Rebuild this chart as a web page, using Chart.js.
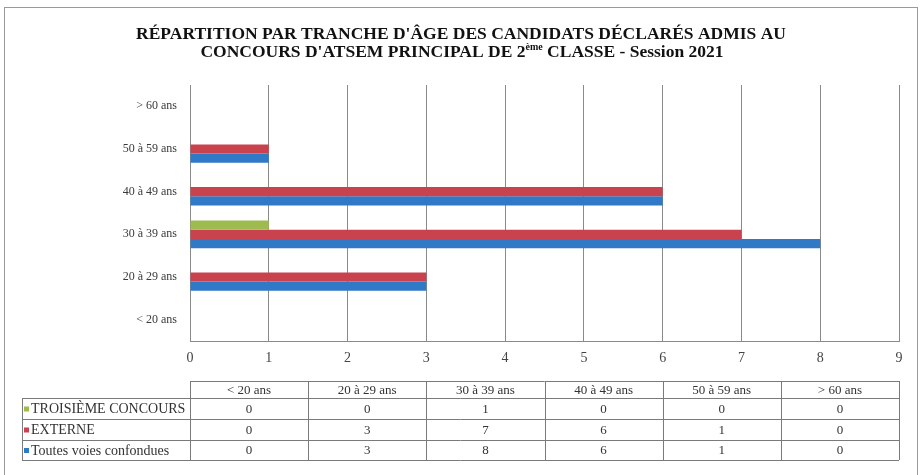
<!DOCTYPE html>
<html>
<head>
<meta charset="utf-8">
<script src="https://cdn.jsdelivr.net/npm/chart.js@4.4.1/dist/chart.umd.min.js"></script>
<style>
  body { margin: 0; background: #fff; }
</style>
</head>
<body>
<canvas id="chart" width="920" height="475"></canvas>
<script>
// data
const categories = ['< 20 ans', '20 à 29 ans', '30 à 39 ans', '40 à 49 ans', '50 à 59 ans', '> 60 ans'];
const troisiemeConcours = [0, 0, 1, 0, 0, 0];
const externe = [0, 3, 7, 6, 1, 0];
const toutesVoies = [0, 3, 8, 6, 1, 0];
const seriesNames = ['TROISIÈME CONCOURS', 'EXTERNE', 'Toutes voies confondues'];
const seriesColors = ['#9DBB4F', '#C9434F', '#2F79C6'];
const xMax = 9;

const serif = '"Liberation Serif", "DejaVu Serif", serif';

// frame + two-line title with the superscript "ème"
const titlePlugin = {
  id: 'titleSup',
  beforeDraw(chart) {
    const ctx = chart.ctx;
    ctx.save();
    ctx.fillStyle = '#fff';
    ctx.fillRect(0, 0, chart.width, chart.height);
    ctx.strokeStyle = '#9a9a9a';
    ctx.lineWidth = 1;
    ctx.strokeRect(4.5, 7.5, 913, 480);

    ctx.fillStyle = '#111';
    ctx.textBaseline = 'alphabetic';
    ctx.textAlign = 'center';
    ctx.font = 'bold 17.5px ' + serif;
    ctx.fillText("RÉPARTITION PAR TRANCHE D'ÂGE DES CANDIDATS DÉCLARÉS ADMIS AU", 461, 39);

    const parts = [
      { t: "CONCOURS D'ATSEM PRINCIPAL DE 2", sup: false },
      { t: 'ème', sup: true },
      { t: ' CLASSE - Session 2021', sup: false }
    ];
    const big = 'bold 17.5px ' + serif, small = 'bold 10px ' + serif;
    let total = 0;
    parts.forEach(p => { ctx.font = p.sup ? small : big; p.w = ctx.measureText(p.t).width; total += p.w; });
    let x = 462 - total / 2;
    ctx.textAlign = 'left';
    parts.forEach(p => {
      ctx.font = p.sup ? small : big;
      ctx.fillText(p.t, x, p.sup ? 50 : 57);
      x += p.w;
    });
    ctx.restore();
  }
};

// data table under the chart, columns lined up with the plot area
const tablePlugin = {
  id: 'dataTable',
  afterDraw(chart) {
    const ctx = chart.ctx;
    const area = chart.chartArea;
    const left = 22, x0 = area.left, x1 = area.right;
    const rows = [381, 398, 419, 440, 460];
    const colW = (x1 - x0) / categories.length;
    const seriesData = [troisiemeConcours, externe, toutesVoies];

    ctx.save();
    ctx.strokeStyle = '#7a7a7a';
    ctx.lineWidth = 1;
    ctx.beginPath();
    ctx.moveTo(x0, rows[0] + 0.5); ctx.lineTo(x1, rows[0] + 0.5);
    for (let r = 1; r < rows.length; r++) {
      ctx.moveTo(left, rows[r] + 0.5); ctx.lineTo(x1, rows[r] + 0.5);
    }
    ctx.moveTo(left + 0.5, rows[1]); ctx.lineTo(left + 0.5, rows[4]);
    for (let c = 0; c <= categories.length; c++) {
      const x = Math.round(x0 + c * colW) + 0.5;
      ctx.moveTo(x, rows[0]); ctx.lineTo(x, rows[4]);
    }
    ctx.stroke();

    ctx.fillStyle = '#333';
    ctx.textBaseline = 'middle';
    ctx.textAlign = 'center';
    ctx.font = '13px ' + serif;
    categories.forEach((c, i) => {
      ctx.fillText(c, x0 + (i + 0.5) * colW, (rows[0] + rows[1]) / 2 + 1);
    });

    seriesData.forEach((vals, s) => {
      const yMid = (rows[s + 1] + rows[s + 2]) / 2 + 1;
      ctx.fillStyle = seriesColors[s];
      ctx.fillRect(24, yMid - 3, 5, 5);
      ctx.fillStyle = '#333';
      ctx.textAlign = 'left';
      ctx.font = '14px ' + serif;
      ctx.fillText(seriesNames[s], 31, yMid);
      ctx.textAlign = 'center';
      ctx.font = '13px ' + serif;
      vals.forEach((v, i) => ctx.fillText(String(v), x0 + (i + 0.5) * colW, yMid));
    });
    ctx.restore();
  }
};

new Chart(document.getElementById('chart'), {
  type: 'bar',
  data: {
    labels: categories,
    datasets: [
      { label: seriesNames[0], data: troisiemeConcours, backgroundColor: seriesColors[0] },
      { label: seriesNames[1], data: externe, backgroundColor: seriesColors[1] },
      { label: seriesNames[2], data: toutesVoies, backgroundColor: seriesColors[2] }
    ]
  },
  options: {
    indexAxis: 'y',
    responsive: false,
    animation: false,
    layout: { padding: { top: 85, right: 21, left: 0, bottom: 0 } },
    datasets: { bar: { categoryPercentage: 0.65, barPercentage: 1.0 } },
    plugins: {
      legend: { display: false },
      title: { display: false },
      tooltip: { enabled: false }
    },
    scales: {
      x: {
        min: 0,
        max: xMax,
        ticks: { stepSize: 1, padding: 9, color: '#444', font: { family: serif, size: 14 } },
        grid: { color: '#8a8a8a', drawTicks: false },
        border: { color: '#8a8a8a' },
        afterFit(scale) { scale.height = 134; }
      },
      y: {
        reverse: true,
        ticks: { padding: 13, color: '#3a3a3a', font: { family: serif, size: 12 } },
        grid: { display: false, drawTicks: false },
        border: { color: '#8a8a8a' },
        afterFit(scale) { scale.width = 190; }
      }
    }
  },
  plugins: [titlePlugin, tablePlugin]
});
</script>
</body>
</html>
